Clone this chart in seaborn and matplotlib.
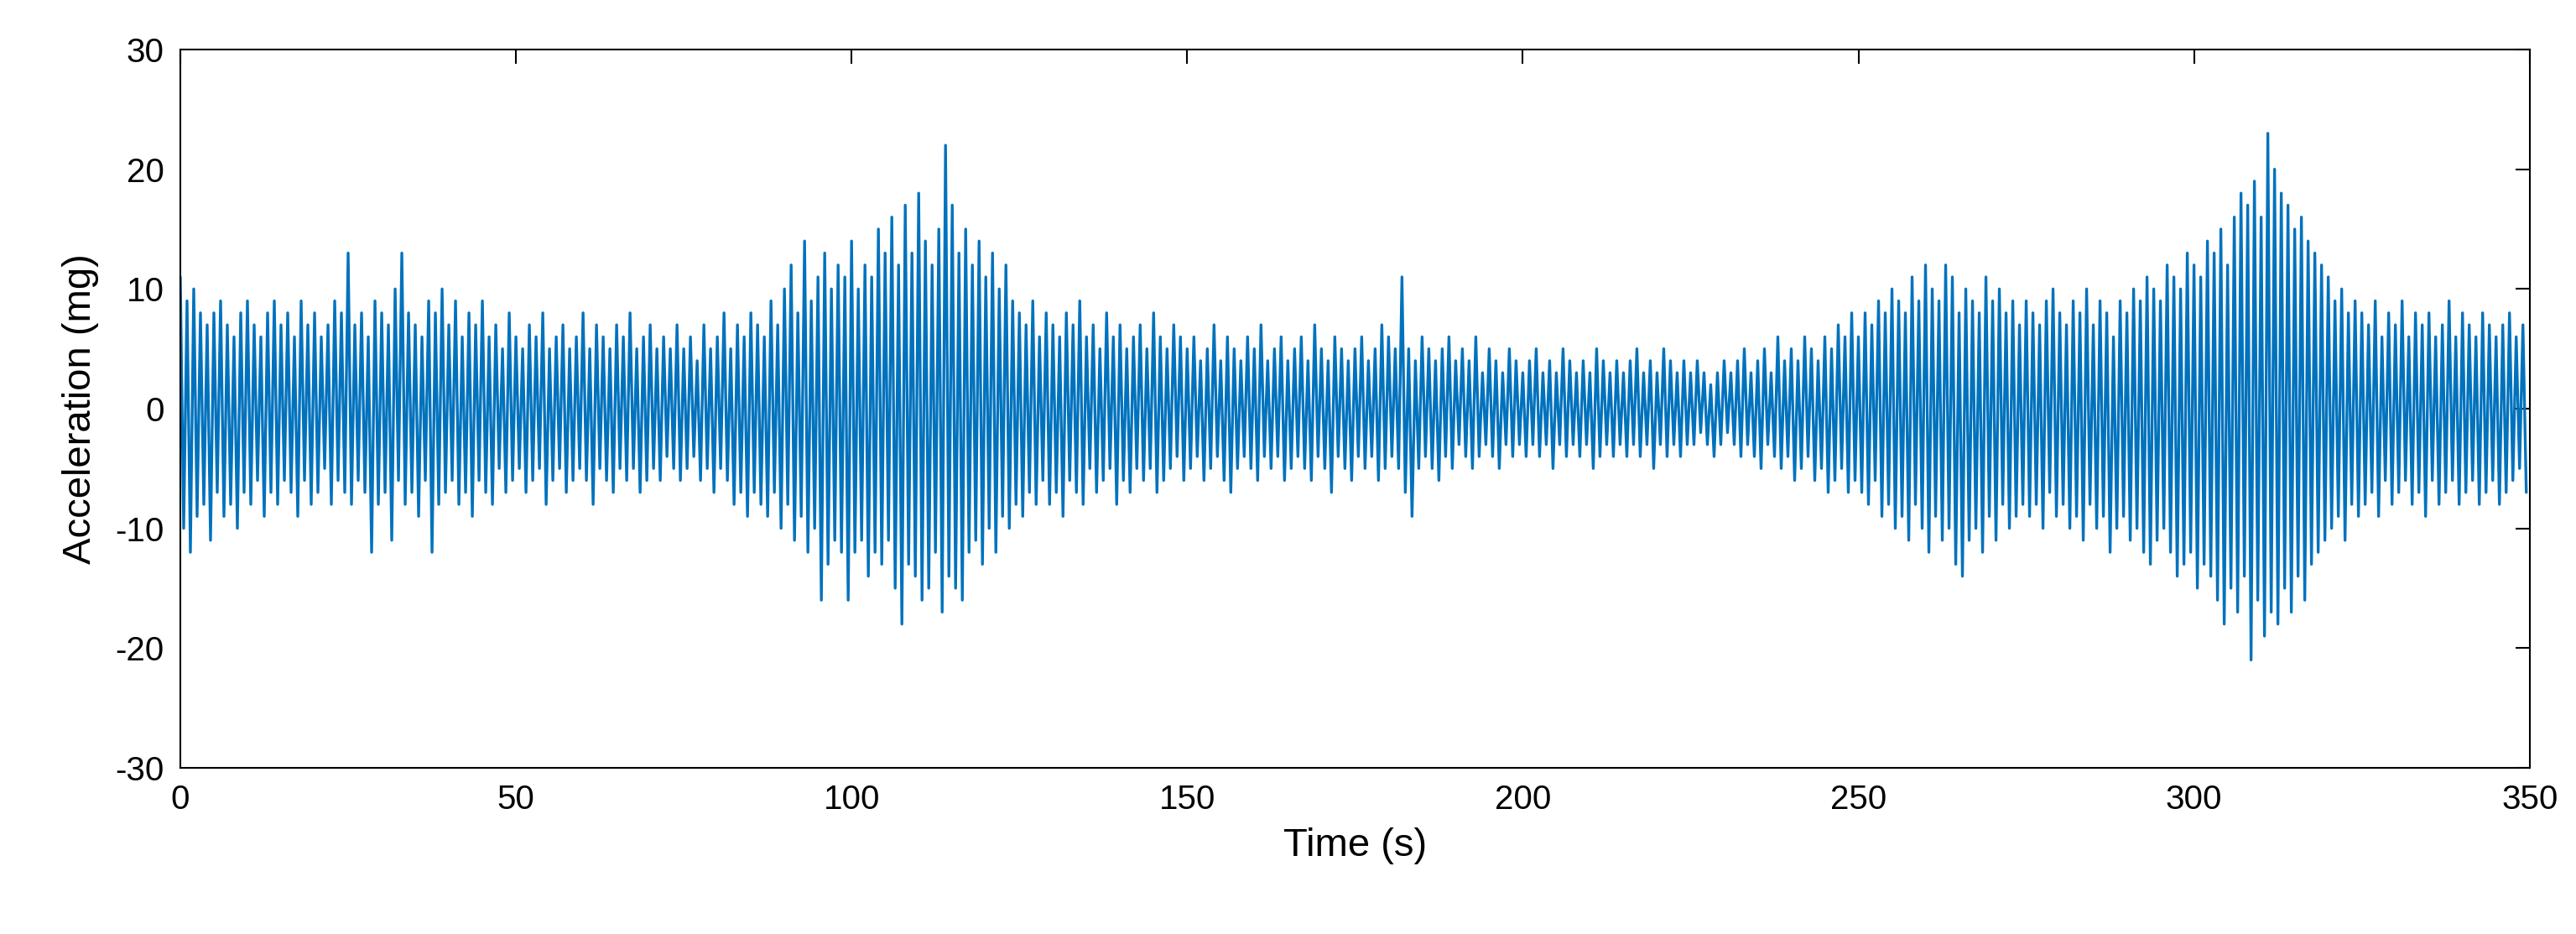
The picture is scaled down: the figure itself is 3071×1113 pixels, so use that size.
import numpy as np
import pandas as pd
import seaborn as sns
from matplotlib import pyplot as plt

# per-second positive peaks (mg)
peak_hi = [11,9,10,8,7,8,9,7,6,8,9,7,6,8,9,7,8,6,9,7,8,6,7,9,8,
           13,7,8,6,9,8,7,10,13,8,7,6,9,8,10,7,9,6,8,7,9,6,7,5,8,
           6,5,7,6,8,5,6,7,5,6,8,5,7,6,5,7,6,8,5,6,7,5,6,5,7,
           5,6,4,7,5,6,8,5,7,6,8,7,6,9,7,10,12,8,14,9,11,13,10,12,11,
           14,10,12,11,15,13,16,12,17,13,18,14,12,15,22,17,13,15,12,14,11,13,10,12,9,
           8,7,9,6,8,7,6,8,7,9,6,7,5,8,6,7,5,6,7,5,8,6,5,7,6,
           5,6,4,5,7,4,6,5,4,6,5,7,4,5,6,4,5,6,4,7,5,4,6,5,4,
           5,6,4,5,7,6,5,11,5,4,6,5,4,5,6,4,5,4,6,3,5,4,3,5,4,
           3,4,5,3,4,3,5,4,3,4,3,5,4,3,4,3,4,5,3,4,3,5,4,3,4,
           3,4,3,2,3,4,3,4,5,3,4,5,3,6,4,5,4,6,5,4,6,5,7,6,8,
           6,8,7,9,8,10,9,8,11,9,12,10,9,12,11,8,10,9,8,11,9,10,8,9,7,
           9,8,7,9,10,8,7,9,8,10,7,9,8,6,9,8,10,9,11,10,9,12,11,10,13,
           12,11,14,13,15,12,16,18,17,19,16,23,20,18,17,15,16,14,13,12,11,9,10,8,9,
           8,7,9,6,8,7,9,6,8,7,8,6,7,9,6,8,7,6,8,7,6,7,8,6,7]

# per-second negative peaks (magnitude, mg)
peak_lo = [10,12,9,8,11,7,9,8,10,7,8,6,9,7,8,6,7,9,6,8,7,5,8,6,7,
           8,6,7,12,8,7,11,6,8,7,9,6,12,8,7,6,8,7,9,6,7,8,5,7,6,
           5,7,6,5,8,6,5,7,6,5,6,8,5,6,7,5,6,5,7,6,5,6,4,5,6,
           5,4,6,5,7,5,6,8,7,9,7,8,9,7,10,8,11,9,12,10,16,13,11,12,16,
           12,11,14,12,13,11,15,18,13,14,16,15,12,17,14,15,16,12,11,13,10,12,9,10,8,
           9,7,8,6,8,7,9,6,7,8,5,7,6,5,8,6,7,5,6,5,7,6,5,4,6,
           5,4,6,5,4,6,7,5,4,5,6,4,5,4,6,5,4,5,6,4,5,7,4,5,6,
           4,5,4,6,5,4,5,7,9,5,4,5,6,4,5,3,4,5,4,3,4,5,3,4,3,
           4,3,4,3,5,3,4,3,4,3,5,4,3,4,3,4,3,4,3,5,3,4,3,4,3,
           3,2,3,4,3,2,3,4,3,4,5,3,4,5,4,6,5,4,6,5,7,6,5,7,6,
           7,8,6,9,8,10,9,11,8,10,12,9,11,10,13,14,11,10,12,9,11,8,10,9,8,
           9,8,10,7,9,8,10,9,11,8,10,9,12,10,9,11,10,12,13,11,10,12,14,13,12,
           15,13,14,16,18,15,17,14,21,16,19,17,18,15,17,14,16,13,12,11,10,9,11,8,9,
           8,7,9,6,8,7,6,8,7,9,6,8,7,6,8,7,6,8,7,6,8,7,6,5,7]

sec = np.arange(len(peak_hi))
t = np.column_stack([sec, sec + 0.5]).ravel()
acc = np.column_stack([peak_hi, -np.array(peak_lo)]).ravel()
df = pd.DataFrame({'t': t, 'acc': acc})

sns.set_style('white')
plt.rcParams['font.family'] = ['Liberation Sans', 'DejaVu Sans']
plt.rcParams['axes.unicode_minus'] = False

fig = plt.figure(figsize=(30.71, 11.13), dpi=100)
ax = fig.add_axes([0.07, 0.178, 0.912, 0.769])
sns.lineplot(data=df, x='t', y='acc', color='#0072BD', linewidth=2.4,
             sort=False, estimator=None, ax=ax)

ax.set_xlim(0, 350)
ax.set_ylim(-30, 30)
ax.set_xticks(range(0, 351, 50))
ax.set_yticks(range(-30, 31, 10))
ax.set_xlabel('Time (s)', fontsize=34, color='black', labelpad=10)
ax.set_ylabel('Acceleration (mg)', fontsize=34, color='black', labelpad=14)
ax.tick_params(direction='in', length=12, width=1.5, labelsize=29,
               colors='black', top=True, right=True, pad=14)
for s in ax.spines.values():
    s.set_color('black')
    s.set_linewidth(1.5)

fig.savefig('out.png', dpi=100)
